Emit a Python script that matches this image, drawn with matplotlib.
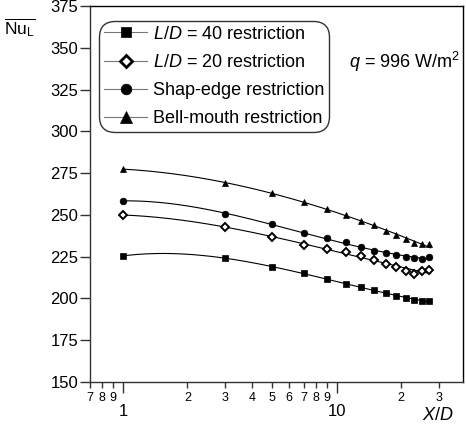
import numpy as np
import matplotlib

matplotlib.use("Agg")
import matplotlib.pyplot as plt  # noqa: E402
from matplotlib.ticker import FixedLocator, FixedFormatter, NullFormatter  # noqa: E402

plt.rcParams["font.family"] = ["Liberation Sans", "DejaVu Sans"]
plt.rcParams["mathtext.fontset"] = "custom"
plt.rcParams["mathtext.rm"] = "Liberation Sans"
plt.rcParams["mathtext.it"] = "Liberation Sans:italic"

# axial position and local Nusselt number for each inlet restriction
x_d = [1, 3, 5, 7, 9, 11, 13, 15, 17, 19, 21, 23, 25, 27]
nu_ld40 = [225.5, 224.0, 219.0, 215.0, 211.5, 208.7, 206.7, 205.0, 203.3, 201.5, 200.3, 199.3, 198.5, 198.5]
nu_ld20 = [250.0, 242.5, 237.0, 232.0, 229.6, 227.6, 225.6, 223.0, 220.6, 218.6, 216.7, 214.7, 216.7, 217.1]
nu_sharp = [258.5, 250.5, 244.5, 239.0, 236.1, 233.5, 230.5, 228.6, 227.2, 226.0, 225.0, 224.0, 223.8, 225.0]
nu_bell = [277.5, 268.8, 262.8, 257.9, 253.8, 250.0, 246.4, 243.9, 240.5, 238.1, 235.5, 233.0, 232.5, 232.5]

series = [
    (nu_ld40, "s", "black", 4.2, "$L/D$ = 40 restriction"),
    (nu_ld20, "D", "white", 3.6, "$L/D$ = 20 restriction"),
    (nu_sharp, "o", "black", 4.8, "Shap-edge restriction"),
    (nu_bell, "^", "black", 5.0, "Bell-mouth restriction"),
]

fig = plt.figure(figsize=(4.66, 4.29), dpi=100)
ax = fig.add_axes([90 / 466, 47 / 429, 373 / 466, 376 / 429])

xs = np.array(x_d, dtype=float)
xfit = np.logspace(0, np.log10(27.5), 200)
for vals, mk, fc, ms, lab in series:
    coef = np.polyfit(np.log10(xs), vals, 3)
    ax.plot(xfit, np.polyval(coef, np.log10(xfit)), color="black", lw=0.8, zorder=2)
    ax.plot(xs, vals, ls="none", marker=mk, ms=ms, mfc=fc, mec="black",
            mew=1.4 if fc == "white" else 0.5, zorder=3)
    # legend entry: grey line through a larger marker
    ax.plot([], [], color="#777777", lw=0.8, marker=mk, ms=ms * 1.6, mfc=fc,
            mec="black", mew=2.0 if fc == "white" else 0.5, label=lab)

ax.set_xscale("log")
ax.set_xlim(0.7, 39)
ax.set_ylim(150, 375)

ax.xaxis.set_major_locator(FixedLocator([1, 10]))
ax.xaxis.set_major_formatter(FixedFormatter(["1", "10"]))
minor = [0.7, 0.8, 0.9, 2, 3, 4, 5, 6, 7, 8, 9, 20, 30]
minor_lab = ["7", "8", "9", "2", "3", "4", "5", "6", "7", "8", "9", "2", "3"]
ax.xaxis.set_minor_locator(FixedLocator(minor))
ax.xaxis.set_minor_formatter(FixedFormatter(minor_lab))
ax.tick_params(axis="x", which="major", direction="out", length=8, width=1,
               pad=7.5, labelsize=12, color="#333333")
ax.tick_params(axis="x", which="minor", direction="out", length=4, width=1,
               pad=3, labelsize=9, color="#333333")

ax.set_yticks(np.arange(150, 376, 25))
ax.tick_params(axis="y", which="major", direction="out", length=7, width=1,
               pad=1.5, labelsize=12, color="#333333")
ax.yaxis.set_minor_formatter(NullFormatter())

for side in ["left", "bottom"]:
    ax.spines[side].set_color("#333333")
for side in ["top", "right"]:
    ax.spines[side].set_color("black")
for sp in ax.spines.values():
    sp.set_linewidth(1)

leg = ax.legend(loc="upper left", bbox_to_anchor=(0.03, 0.955), fontsize=13,
                handlelength=2.4, handletextpad=0.3, labelspacing=0.62,
                borderpad=0.15, borderaxespad=0, frameon=True, fancybox=True)
frame = leg.get_frame()
frame.set_edgecolor("black")
frame.set_linewidth(1)
frame.set_boxstyle("round", pad=0.12, rounding_size=0.9)

ax.text(0.694, 0.851, "$q$ = 996 W/m$^2$", transform=ax.transAxes,
        fontsize=13, va="center", ha="left")

fig.text(4 / 466, 1 - 28 / 429, r"$\overline{\mathrm{Nu}_\mathrm{L}}$",
         fontsize=12.5, va="center", ha="left")
fig.text(438 / 466, 1 - 415 / 429, "$X/D$", fontsize=13, va="center", ha="center")

fig.savefig("out.png", dpi=100)
plt.close(fig)
